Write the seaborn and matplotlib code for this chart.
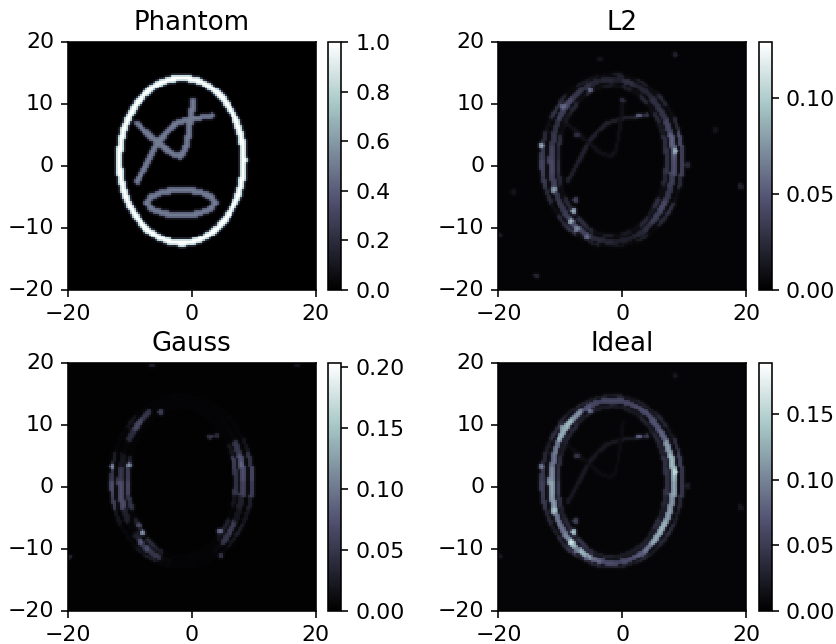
import numpy as np
import matplotlib
matplotlib.use('Agg')
import matplotlib.pyplot as plt
import seaborn as sns

titles = ['Phantom', 'L2', 'Gauss', 'Ideal']
vmaxes = [1.0, 0.129, 0.203, 0.189]
cbar_ticks = [[0, 0.2, 0.4, 0.6, 0.8, 1.0],
              [0, 0.05, 0.10],
              [0, 0.05, 0.10, 0.15, 0.20],
              [0, 0.05, 0.10, 0.15]]
cbar_fmt = ['%.1f', '%.2f', '%.2f', '%.2f']
x_ticks = [-20, 0, 20]
y_ticks = [-20, -10, 0, 10, 20]

# strokes inside the ring
stroke_a_x = [-8.86, -7.24, -5.63, -4.01, -2.4, -0.24, 3.26]
stroke_a_y = [-2.56, 0.4, 3.63, 5.52, 6.86, 7.56, 8.1]
stroke_b_x = [-8.86, -5.63, -3.47, -1.86, -1.05, -0.51, 0.19]
stroke_b_y = [6.76, 3.9, 2.02, 1.48, 2.56, 5.25, 10.47]
loop_x = [3.8, 3.06, 1.05, -1.7, -4.45, -6.46, -7.2, -6.46, -4.45, -1.7, 1.05, 3.06, 3.8]
loop_y = [-5.95, -4.9, -4.13, -3.85, -4.13, -4.9, -5.95, -7.0, -7.77, -8.05, -7.77, -7.0, -5.95]

# ring bands: (a outer, a inner, b outer, b inner)
ring_cx, ring_cy = -1.64, 0.86
phantom_band = (10.55, 9.5, 13.85, 12.8)
outer_band = (11.7, 11.0, 14.1, 13.7)
main_band = (10.4, 9.4, 13.6, 12.7)
inner_band = (9.1, 8.4, 12.45, 11.8)

# band brightness in 10 degree sectors, counter clockwise from the right
l2_outer = [.04, .045, .025, .008, .025, .008, .02, .006, .02, .006, .012, .02, .006, .025, .03, .008, .025, .035,
            .04, .035, .025, .008, .025, .03, .008, .02, .006, .012, .006, .02, .006, .025, .03, .008, .025, .04]
l2_main = [.05, .055, .04, .03, .028, .022, .022, .028, .018, .022, .022, .028, .032, .042, .036, .028, .032, .038,
           .042, .038, .032, .032, .036, .042, .038, .024, .022, .018, .018, .022, .028, .036, .042, .032, .036, .045]
l2_inner = [.03, .028, .015, .024, .008, .024, .008, .018, .008, .015, .008, .024, .008, .024, .015, .008, .028, .024,
            .03, .024, .008, .024, .008, .028, .024, .008, .018, .008, .015, .008, .024, .015, .028, .008, .024, .03]
gauss_outer = [.07, .05, .02, .006, .006, .004, .004, .004, .004, .004, .004, .004, .006, .02, .006, .006, .03, .05,
               .07, .06, .02, .008, .008, .02, .03, .008, .004, .004, .004, .004, .008, .02, .03, .02, .03, .06]
gauss_main = [.07, .075, .05, .006, .005, .004, .004, .004, .004, .004, .004, .004, .05, .065, .04, .006, .02, .05,
              .07, .07, .03, .006, .03, .05, .05, .008, .004, .004, .004, .004, .008, .05, .055, .02, .03, .06]
gauss_inner = [.05, .06, .02, .004, .004, .004, .004, .004, .004, .004, .004, .004, .004, .004, .004, .004, .03, .06,
               .07, .05, .006, .03, .006, .04, .03, .004, .004, .004, .004, .004, .004, .02, .03, .006, .02, .05]
ideal_outer = [.05, .055, .04, .02, .035, .025, .03, .02, .03, .025, .025, .035, .025, .035, .04, .025, .035, .05,
               .055, .05, .035, .025, .035, .045, .03, .035, .025, .03, .025, .035, .025, .035, .04, .025, .035, .05]
ideal_main = [.13, .135, .115, .08, .07, .065, .065, .06, .06, .06, .06, .07, .11, .135, .125, .095, .09, .105,
              .12, .115, .095, .09, .105, .135, .13, .085, .065, .06, .065, .075, .095, .125, .13, .115, .11, .12]
ideal_inner = [.045, .045, .03, .035, .025, .03, .02, .025, .02, .025, .025, .03, .025, .035, .03, .025, .04, .045,
               .055, .045, .03, .035, .025, .045, .04, .025, .03, .025, .025, .025, .03, .025, .04, .025, .035, .045]

# stray bright spots
l2_spot_x = [2.74, 3.9, 0.05, 10.6, 19.2, -13.8, -19.7, 8.5, -17.6, 15.1, -7.6, -7.4, -13, 8.5, -8.4, -11.1, -7.9, -7.4, -5.8, -5.2, -9.5, -3.6]
l2_spot_y = [8.1, 8.2, 10.6, 0.1, -3.3, -17.8, -11.2, 17.9, -4.2, 5.8, -5.5, 5.0, 3.3, 2.3, -9, -3.9, -7.4, -10.1, -11.5, 12.2, 9.6, 17.2]
l2_spot_v = [.06, .03, .03, .025, .02, .025, .02, .02, .012, .012, .04, .03, .09, .09, .09, .08, .09, .07, .06, .06, .06, .012]
gauss_spot_x = [3, 4, -5.1, -12.9, -10.2, -8, 4.6, -19.7, -6.4, 8.1, -8.6, -8.3, -7.2, 4.7, -9.7, 17]
gauss_spot_y = [8.1, 8.3, 12, 3.3, 3.5, -7.4, -7.2, -11.3, 19.7, 3.5, -6.2, -8.9, -9.9, -11, -3.2, 19.8]
gauss_spot_v = [.05, .04, .06, .12, .12, .13, .1, .04, .03, .09, .07, .08, .07, .05, .05, .02]
ideal_spot_x = [2.74, 3.9, 10.6, 19.2, -19.7, 8.5, -7.6, -7.4, -13, 8.5, -8.4, -11.1, -7.9, -7.4, -5.8, -5.2, -9.5]
ideal_spot_y = [8.1, 8.2, 0.1, -3.3, -11.2, 17.9, -5.5, 5.0, 3.3, 2.3, -9, -3.9, -7.4, -10.1, -11.5, 12.2, 9.6]
ideal_spot_v = [.09, .05, .025, .02, .025, .02, .06, .05, .1, .16, .17, .14, .15, .1, .09, .09, .12]

phantom_stroke_level = 0.5
residual_stroke_levels = [0.02, 0.0, 0.022]
floors = [0.003, 0.002, 0.005]

n = 128
centers = -20 + (np.arange(n) + 0.5) * 40 / n
X, Y = np.meshgrid(centers, -centers)


def band_mask(band):
    a_o, a_i, b_o, b_i = band
    dx, dy = X - ring_cx, Y - ring_cy
    return ((dx / a_o) ** 2 + (dy / b_o) ** 2 <= 1) & ((dx / a_i) ** 2 + (dy / b_i) ** 2 > 1)


def stroke_dist(xs, ys):
    d = np.full(X.shape, 99.0)
    for i in range(len(xs) - 1):
        ax_, ay_, bx_, by_ = xs[i], ys[i], xs[i + 1], ys[i + 1]
        t = ((X - ax_) * (bx_ - ax_) + (Y - ay_) * (by_ - ay_)) / ((bx_ - ax_) ** 2 + (by_ - ay_) ** 2)
        t = np.clip(t, 0, 1)
        d = np.minimum(d, np.hypot(X - ax_ - t * (bx_ - ax_), Y - ay_ - t * (by_ - ay_)))
    return d


def soften(mat):
    # the reference image edges are only a little soft
    box = np.array([0.15, 0.7, 0.15])
    mat = np.apply_along_axis(lambda r: np.convolve(r, box, mode='same'), 0, mat)
    return np.apply_along_axis(lambda r: np.convolve(r, box, mode='same'), 1, mat)


def sector_fill(mat, band, values):
    theta = np.degrees(np.arctan2((Y - ring_cy) / band[2], (X - ring_cx) / band[0])) % 360
    idx = (theta // 10).astype(int) % 36
    mask = band_mask(band)
    mat[mask] = np.maximum(mat[mask], np.array(values)[idx[mask]])


def residual(floor, level, bands, spots):
    mat = np.full(X.shape, floor)
    mat[stroke_dist(stroke_a_x, stroke_a_y) <= 0.3] = max(floor, level)
    mat[stroke_dist(stroke_b_x, stroke_b_y) <= 0.3] = max(floor, level * 0.5)
    for band, values in bands:
        sector_fill(mat, band, values)
    for sx, sy, sv in zip(*spots):
        mat[np.hypot(X - sx, Y - sy) <= 0.45] = sv
    return soften(mat)


phantom = np.zeros(X.shape)
for xs, ys in [(stroke_a_x, stroke_a_y), (stroke_b_x, stroke_b_y), (loop_x, loop_y)]:
    phantom[stroke_dist(xs, ys) <= 0.5] = phantom_stroke_level
phantom[band_mask(phantom_band)] = 1.0
phantom = soften(phantom)

images = [
    phantom,
    residual(floors[0], residual_stroke_levels[0],
             [(outer_band, l2_outer), (main_band, l2_main), (inner_band, l2_inner)],
             (l2_spot_x, l2_spot_y, l2_spot_v)),
    residual(floors[1], residual_stroke_levels[1],
             [(outer_band, gauss_outer), (main_band, gauss_main), (inner_band, gauss_inner)],
             (gauss_spot_x, gauss_spot_y, gauss_spot_v)),
    residual(floors[2], residual_stroke_levels[2],
             [(outer_band, ideal_outer), (main_band, ideal_main), (inner_band, ideal_inner)],
             (ideal_spot_x, ideal_spot_y, ideal_spot_v)),
]

W, H = 836, 644
fig = plt.figure(figsize=(W / 144, H / 144), dpi=144)

# pixel boxes of each image and colorbar
lefts = [68, 498.5, 68, 498.5]
tops = [42, 42, 363, 363]
side = 247.7

for i in range(4):
    ax = fig.add_axes([lefts[i] / W, 1 - (tops[i] + side) / H, side / W, side / H])
    cax = fig.add_axes([(lefts[i] + 260.3) / W, 1 - (tops[i] + side) / H, 12.8 / W, side / H])
    sns.heatmap(images[i], ax=ax, cbar_ax=cax, cmap='bone', vmin=0, vmax=vmaxes[i],
                xticklabels=False, yticklabels=False)
    ax.set_xticks([(v + 20) * n / 40 for v in x_ticks])
    ax.set_xticklabels([str(v).replace('-', '\u2212') for v in x_ticks])
    ax.set_yticks([(20 - v) * n / 40 for v in y_ticks])
    ax.set_yticklabels([str(v).replace('-', '\u2212') for v in y_ticks], rotation=0, va='center')
    ax.tick_params(length=3.5, width=0.8, labelsize=11)
    for sp in ax.spines.values():
        sp.set_visible(True)
        sp.set_linewidth(0.8)
    ax.set_title(titles[i], fontsize=13)

    cb = ax.collections[0].colorbar
    cb.outline.set_linewidth(0.8)
    cb.outline.set_visible(True)
    cb.set_ticks(cbar_ticks[i])
    cb.set_ticklabels([cbar_fmt[i] % v for v in cbar_ticks[i]])
    cax.tick_params(length=3.5, width=0.8, labelsize=11)

fig.savefig('out.png', dpi=144)
plt.close()
